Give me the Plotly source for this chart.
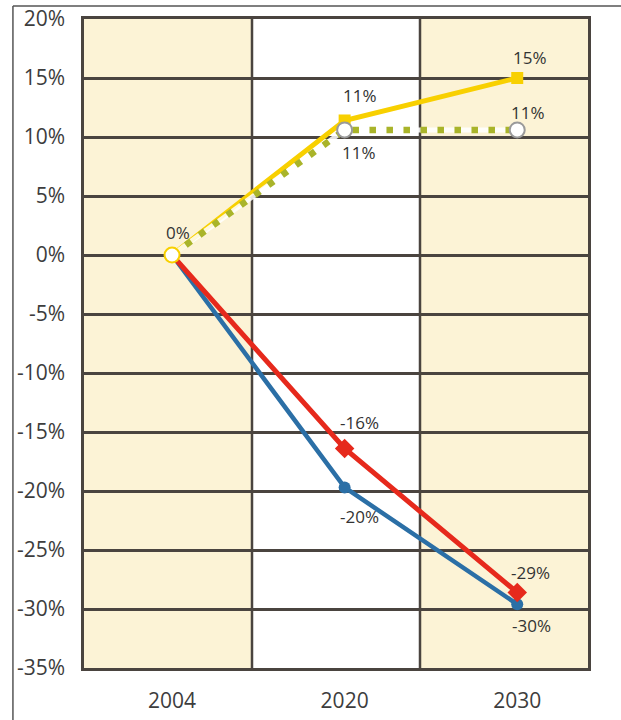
import plotly.graph_objects as go

# Scenario index (2004 = 0%) per year
years = ["2004", "2020", "2030"]
x_pos = [0, 1, 2]

yellow_vals = [0, 11.4, 15]
dotted_vals = [0, 10.6, 10.6]
red_vals = [0, -16.4, -28.6]
blue_vals = [0, -19.7, -29.6]

y_ticks = [20, 15, 10, 5, 0, -5, -10, -15, -20, -25, -30, -35]
y_tick_text = ["20%", "15%", "10%", "5%", "0%", "-5%", "-10%", "-15%",
               "-20%", "-25%", "-30%", "-35%"]

YELLOW = "#f8d000"
OLIVE = "#a9b42a"
RED = "#e6291c"
BLUE = "#2b6fa6"
CREAM = "#fcf3d6"
GRID = "#4a443f"
LABEL_FONT = dict(family="Open Sans", size=17, color="#333333")


def pct(v):
    return f"{v:.0f}%"


fig = go.Figure()

fig.add_trace(go.Scatter(
    x=x_pos, y=blue_vals, mode="lines+markers",
    line=dict(color=BLUE, width=4.5),
    marker=dict(symbol="circle", size=[0, 12, 12], color=BLUE,
                opacity=1, line=dict(width=0)),
    hoverinfo="skip", showlegend=False))

fig.add_trace(go.Scatter(
    x=x_pos, y=red_vals, mode="lines+markers",
    line=dict(color=RED, width=5),
    marker=dict(symbol="diamond", size=[0, 15, 15], color=RED,
                opacity=1, line=dict(width=0)),
    hoverinfo="skip", showlegend=False))

fig.add_trace(go.Scatter(
    x=x_pos, y=yellow_vals, mode="lines+markers",
    line=dict(color=YELLOW, width=5),
    marker=dict(symbol="square", size=[0, 12, 12], color=YELLOW,
                opacity=1, line=dict(width=0)),
    hoverinfo="skip", showlegend=False))

# light underlay so the dotted series reads as separated dots
fig.add_trace(go.Scatter(
    x=x_pos, y=dotted_vals, mode="lines",
    line=dict(color="rgba(255,255,255,0.85)", width=5),
    hoverinfo="skip", showlegend=False))

fig.add_trace(go.Scatter(
    x=x_pos, y=dotted_vals, mode="lines+markers",
    line=dict(color=OLIVE, width=6.5, dash="6.5px,10.5px"),
    marker=dict(symbol="circle", size=15, color="white", opacity=1,
                line=dict(color=[YELLOW, "#9a9a9a", "#9a9a9a"], width=2)),
    hoverinfo="skip", showlegend=False))

# value labels: (x, y, text, xshift, yshift)
labels = [
    (x_pos[0], yellow_vals[0], pct(yellow_vals[0]), 6, 23),
    (x_pos[1], yellow_vals[1], pct(yellow_vals[1]), 15, 25),
    (x_pos[2], yellow_vals[2], pct(yellow_vals[2]), 13, 21),
    (x_pos[1], dotted_vals[1], pct(dotted_vals[1]), 14, -23),
    (x_pos[2], dotted_vals[2], pct(dotted_vals[2]), 11, 17),
    (x_pos[1], red_vals[1], pct(red_vals[1]), 15, 26),
    (x_pos[2], red_vals[2], pct(red_vals[2]), 13, 20),
    (x_pos[1], blue_vals[1], pct(blue_vals[1]), 15, -29),
    (x_pos[2], blue_vals[2], pct(blue_vals[2]), 14, -21),
]
for lx, ly, txt, dx, dy in labels:
    fig.add_annotation(x=lx, y=ly, text=txt, showarrow=False,
                       xshift=dx, yshift=dy, font=LABEL_FONT)

# alternating column bands and column dividers
shapes = [
    dict(type="rect", xref="x domain", yref="y domain", x0=0, x1=1/3,
         y0=0, y1=1, fillcolor=CREAM, line_width=0, layer="below"),
    dict(type="rect", xref="x domain", yref="y domain", x0=2/3, x1=1,
         y0=0, y1=1, fillcolor=CREAM, line_width=0, layer="below"),
    dict(type="line", xref="x domain", yref="y domain", x0=1/3, x1=1/3,
         y0=0, y1=1, line=dict(color=GRID, width=2.5), layer="below"),
    dict(type="line", xref="x domain", yref="y domain", x0=2/3, x1=2/3,
         y0=0, y1=1, line=dict(color=GRID, width=2.5), layer="below"),
    # outer frame (left and top edges)
    dict(type="line", xref="paper", yref="paper", x0=-0.141, x1=-0.141,
         y0=-0.09, y1=1.02, line=dict(color="#555555", width=1.5)),
    dict(type="line", xref="paper", yref="paper", x0=-0.141, x1=1.07,
         y0=1.02, y1=1.02, line=dict(color="#555555", width=1.5)),
]

fig.update_layout(
    width=621, height=720,
    margin=dict(l=84, r=33, t=19, b=52, autoexpand=False),
    paper_bgcolor="white", plot_bgcolor="white",
    shapes=shapes,
    showlegend=False,
)

fig.update_xaxes(
    range=[-0.51, 2.41], tickvals=x_pos, ticktext=years,
    showgrid=False, zeroline=False, automargin=False,
    showline=True, mirror=True, linecolor=GRID, linewidth=2.5,
    ticks="", ticklabelstandoff=12,
    tickfont=dict(family="Open Sans", size=21, color="#3d3d3d"),
)
fig.update_yaxes(
    range=[-35, 20], tickvals=y_ticks, ticktext=y_tick_text,
    showgrid=True, gridcolor=GRID, gridwidth=2.5, zeroline=False,
    showline=True, mirror=True, linecolor=GRID, linewidth=2.5,
    ticks="", ticklabelstandoff=12, automargin=False,
    tickfont=dict(family="Open Sans", size=21, color="#3d3d3d"),
)

fig.write_html("out.html")
